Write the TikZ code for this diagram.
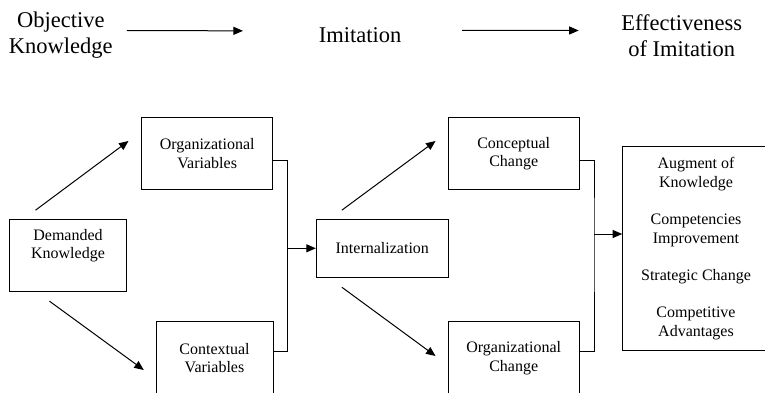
\documentclass[tikz,border=0pt]{standalone}
\usepackage{fontspec}
\setmainfont{Liberation Serif}
\usetikzlibrary{arrows.meta}
\begin{document}
\begin{tikzpicture}[x=1pt, y=-1pt,
	box/.style={draw, line width=1pt, align=center, inner sep=0pt, font=\fontsize{16}{18.4}\selectfont},
	head/.style={align=center, inner sep=0pt, font=\fontsize{22.5}{26}\selectfont},
	arr/.style={-{Triangle[length=9.5pt,width=8pt]}, line width=1pt}]
\useasboundingbox (0,0) rectangle (765,393);
\node[head] (ok) at (60.8,35.5) {Objective\\Knowledge};
\node[head, anchor=base] (im) at (360,42.7) {Imitation};
\node[head] (ei) at (681.7,35.5) {Effectiveness\\of Imitation};

\node[box, minimum width=117.4, minimum height=72.4, text depth=23.5] (dk) at (68,255.5) {Demanded\\Knowledge};
\node[box, minimum width=131, minimum height=72.7] (ov) at (207.2,153.6) {Organizational\\Variables};
\node[box, minimum width=117, minimum height=73] (cv) at (214.5,358.2) {Contextual\\Variables};
\node[box, minimum width=132, minimum height=58] (it) at (382.3,248.3) {Internalization};
\node[box, minimum width=131.3, minimum height=72.7] (cc) at (513.7,153.6) {Conceptual\\Change};
\node[box, minimum width=131.3, minimum height=73] (oc) at (513.7,358.2) {Organizational\\Change};
\node[box, minimum width=146.6, minimum height=204] (ef) at (696,248.7)
	{Augment of\\Knowledge\\[19pt]Competencies\\Improvement\\[19pt]Strategic Change\\[19pt]Competitive\\Advantages};

\coordinate (j1) at (287.3,248.3);
\coordinate (j2) at (594,234);
\draw[line width=1pt] ([yshift=-7.3]ov.east) -| (j1) |- ([yshift=6.8]cv.east);
\draw[line width=1pt] ([yshift=-6.9]cc.east) -| (j2) |- ([yshift=6.8]oc.east);

\path[arr]
([shift={(14,-5)}]ok.east) edge ([shift={(-75.6,-4.5)}]im.west)
([shift={(60.6,-5)}]im.east) edge ([shift={(-42.4,-5)}]ei.west)
([shift={(26.7,-8.6)}]dk.north west) edge ([shift={(-12.7,-12.6)}]ov.west)
([shift={(40.7,9)}]dk.south west) edge ([shift={(-11.7,11.8)}]cv.west)
([shift={(26,-8.6)}]it.north west) edge ([shift={(-12,-12.6)}]cc.west)
([shift={(26,9.4)}]it.south west) edge ([shift={(-12,-2.2)}]oc.west)
(j1) edge (it.west)
(j2) edge (j2 -| ef.west)
;
\end{tikzpicture}
\end{document}
